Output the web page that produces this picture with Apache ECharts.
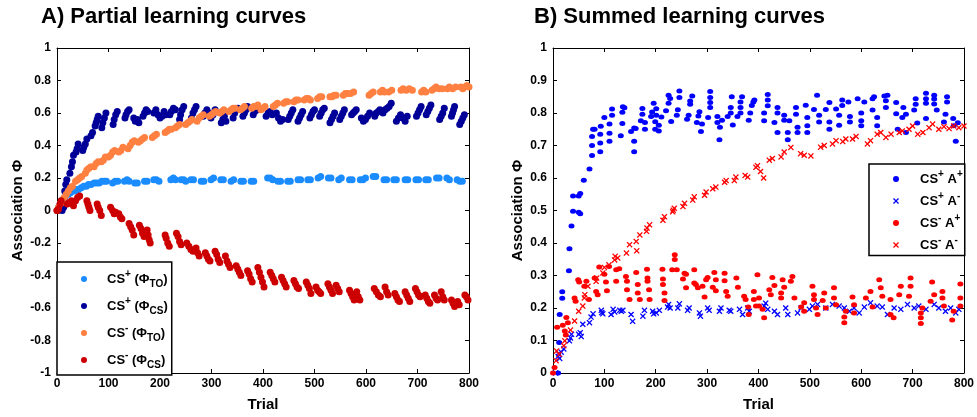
<!DOCTYPE html>
<html>
<head>
<meta charset="utf-8">
<script src="https://cdn.jsdelivr.net/npm/echarts@6/dist/echarts.min.js"></script>
<style>html,body{margin:0;padding:0;background:#fff}#c{width:977px;height:417px}</style>
</head>
<body>
<div id="c"></div>
<script>
// ---------- DATA ----------
const xTicksTrial = [0,100,200,300,400,500,600,700,800];
const leftNames = ['CS+ (ΦTO)', 'CS+ (ΦCS)', 'CS- (ΦTO)', 'CS- (ΦCS)'];
const rightNames = ['CS+ A+', 'CS+ A-', 'CS- A+', 'CS- A-'];

// Panel A: [trial, association]
const csPlusTO = [[0,0],[3,0.02],[6,0.04],[9,0.06],[12,0.07],[15,0.08],[19,0.1],[22,0.1],[26,0.11],[30,0.12],[34,0.12],[38,0.13],[42,0.13],[47,0.14],[52,0.15],[57,0.15],[61,0.16],[66,0.16],[72,0.17],[77,0.17],[82,0.17],[87,0.18],[92,0.18],[96,0.18],[108,0.17],[113,0.18],[118,0.18],[131,0.18],[136,0.19],[140,0.18],[151,0.17],[156,0.17],[170,0.18],[175,0.18],[188,0.19],[193,0.19],[198,0.18],[221,0.19],[226,0.2],[230,0.19],[241,0.19],[246,0.19],[250,0.18],[260,0.19],[265,0.19],[280,0.18],[285,0.18],[299,0.19],[304,0.2],[318,0.19],[323,0.19],[338,0.18],[343,0.19],[357,0.18],[362,0.18],[377,0.18],[382,0.18],[409,0.2],[414,0.2],[419,0.19],[429,0.18],[434,0.18],[448,0.18],[453,0.18],[468,0.19],[473,0.19],[487,0.19],[492,0.19],[507,0.2],[512,0.21],[527,0.2],[532,0.2],[547,0.19],[552,0.2],[568,0.19],[573,0.19],[589,0.19],[594,0.19],[599,0.2],[614,0.21],[619,0.21],[635,0.19],[640,0.19],[654,0.19],[659,0.19],[676,0.19],[681,0.19],[697,0.19],[702,0.19],[716,0.19],[721,0.19],[737,0.2],[742,0.2],[757,0.2],[762,0.19],[777,0.19],[782,0.18],[787,0.18]];
const csPlusCS = [[2,0],[6,0.02],[10,0],[13,0.02],[15,0.12],[17,0.16],[19,0.19],[25,0.23],[28,0.27],[30,0.3],[32,0.34],[37,0.36],[39,0.38],[41,0.41],[50,0.37],[52,0.39],[55,0.41],[58,0.44],[66,0.46],[69,0.48],[74,0.52],[76,0.54],[78,0.56],[80,0.58],[87,0.51],[89,0.54],[92,0.57],[95,0.6],[109,0.53],[111,0.56],[114,0.59],[117,0.61],[132,0.57],[134,0.59],[137,0.61],[140,0.62],[149,0.57],[152,0.55],[156,0.56],[159,0.54],[167,0.58],[170,0.6],[173,0.62],[176,0.61],[188,0.6],[192,0.62],[196,0.59],[200,0.57],[204,0.58],[208,0.61],[211,0.59],[219,0.59],[222,0.61],[226,0.63],[230,0.62],[238,0.56],[240,0.59],[243,0.62],[246,0.64],[261,0.57],[264,0.6],[267,0.62],[270,0.64],[284,0.58],[287,0.6],[291,0.62],[295,0.6],[299,0.57],[303,0.59],[307,0.62],[319,0.54],[322,0.56],[325,0.58],[328,0.55],[342,0.57],[345,0.6],[348,0.62],[351,0.63],[361,0.58],[364,0.6],[367,0.62],[370,0.64],[381,0.59],[384,0.61],[387,0.63],[390,0.62],[406,0.58],[410,0.6],[414,0.61],[418,0.59],[426,0.6],[430,0.57],[434,0.55],[438,0.56],[449,0.56],[452,0.58],[455,0.6],[458,0.62],[468,0.55],[471,0.57],[474,0.59],[477,0.61],[491,0.57],[494,0.59],[497,0.61],[500,0.62],[510,0.58],[513,0.6],[516,0.62],[519,0.63],[530,0.54],[533,0.56],[536,0.58],[539,0.6],[549,0.56],[552,0.58],[555,0.6],[558,0.62],[572,0.59],[575,0.6],[578,0.61],[581,0.62],[591,0.57],[595,0.55],[599,0.56],[603,0.58],[607,0.6],[617,0.58],[620,0.6],[624,0.61],[627,0.62],[633,0.6],[637,0.62],[641,0.63],[645,0.64],[649,0.66],[659,0.55],[663,0.57],[667,0.59],[672,0.57],[676,0.55],[680,0.58],[698,0.58],[701,0.6],[704,0.62],[707,0.64],[717,0.59],[720,0.61],[723,0.63],[726,0.65],[743,0.56],[746,0.58],[749,0.6],[752,0.63],[766,0.58],[768,0.6],[770,0.62],[772,0.64],[782,0.53],[785,0.55],[788,0.57],[791,0.59]];
const csMinusTO = [[0,0],[3,0.02],[6,0.04],[9,0.05],[14,0.08],[18,0.1],[22,0.12],[26,0.14],[30,0.15],[36,0.18],[40,0.19],[44,0.2],[48,0.21],[55,0.23],[58,0.25],[62,0.26],[66,0.27],[72,0.27],[76,0.29],[80,0.3],[86,0.3],[90,0.31],[94,0.33],[100,0.33],[104,0.34],[108,0.36],[112,0.37],[120,0.36],[124,0.37],[128,0.39],[138,0.38],[142,0.4],[146,0.42],[150,0.43],[158,0.42],[162,0.43],[166,0.44],[170,0.45],[185,0.45],[189,0.46],[193,0.47],[210,0.48],[214,0.49],[218,0.5],[222,0.5],[230,0.51],[234,0.52],[238,0.53],[250,0.53],[254,0.54],[258,0.55],[262,0.56],[272,0.55],[276,0.57],[280,0.58],[284,0.59],[296,0.58],[300,0.59],[304,0.6],[308,0.61],[316,0.6],[320,0.61],[324,0.62],[334,0.61],[338,0.62],[342,0.63],[346,0.63],[356,0.62],[360,0.63],[364,0.64],[378,0.63],[382,0.64],[386,0.64],[390,0.65],[396,0.62],[400,0.63],[404,0.64],[420,0.64],[424,0.65],[428,0.66],[440,0.66],[444,0.67],[448,0.67],[460,0.67],[464,0.68],[468,0.68],[480,0.68],[484,0.69],[488,0.69],[492,0.68],[506,0.69],[510,0.7],[514,0.7],[530,0.7],[534,0.7],[538,0.71],[542,0.71],[556,0.71],[560,0.72],[564,0.72],[570,0.72],[576,0.73],[606,0.71],[610,0.72],[614,0.73],[628,0.73],[632,0.74],[636,0.73],[644,0.73],[650,0.74],[668,0.74],[672,0.75],[678,0.74],[684,0.75],[690,0.74],[708,0.73],[712,0.74],[716,0.73],[728,0.74],[732,0.75],[736,0.76],[742,0.75],[748,0.75],[758,0.75],[762,0.76],[768,0.75],[774,0.76],[784,0.76],[788,0.75],[792,0.76],[796,0.77],[800,0.76]];
const csMinusCS = [[0,0],[3,0.01],[6,0.04],[8,0.06],[20,0.04],[24,0.05],[28,0.06],[32,0.03],[36,0.06],[40,0.08],[44,0.09],[58,0.06],[60,0.04],[62,0.02],[64,0],[78,0.04],[80,0.02],[83,0],[86,-0.03],[104,0.02],[108,0],[111,-0.02],[114,-0.01],[120,-0.02],[123,-0.04],[126,-0.05],[140,-0.08],[143,-0.1],[146,-0.12],[149,-0.15],[160,-0.09],[163,-0.11],[166,-0.14],[169,-0.16],[175,-0.12],[177,-0.15],[179,-0.18],[181,-0.2],[210,-0.15],[212,-0.17],[215,-0.2],[218,-0.22],[232,-0.14],[235,-0.16],[238,-0.19],[241,-0.21],[252,-0.2],[256,-0.22],[260,-0.24],[264,-0.25],[270,-0.23],[273,-0.26],[276,-0.28],[288,-0.26],[291,-0.28],[294,-0.3],[297,-0.31],[307,-0.25],[310,-0.27],[313,-0.3],[316,-0.32],[327,-0.28],[330,-0.31],[333,-0.33],[336,-0.35],[348,-0.34],[351,-0.36],[354,-0.38],[357,-0.4],[370,-0.37],[373,-0.39],[376,-0.42],[379,-0.44],[390,-0.35],[393,-0.38],[396,-0.41],[399,-0.44],[402,-0.47],[414,-0.38],[417,-0.4],[420,-0.42],[423,-0.44],[436,-0.41],[439,-0.43],[442,-0.45],[445,-0.47],[460,-0.43],[463,-0.45],[466,-0.47],[469,-0.48],[484,-0.44],[487,-0.46],[490,-0.48],[493,-0.51],[503,-0.47],[506,-0.49],[509,-0.5],[512,-0.51],[526,-0.45],[529,-0.47],[532,-0.49],[535,-0.51],[542,-0.46],[545,-0.48],[548,-0.5],[568,-0.49],[571,-0.51],[574,-0.53],[577,-0.55],[582,-0.5],[585,-0.53],[588,-0.55],[616,-0.48],[620,-0.5],[624,-0.52],[628,-0.53],[637,-0.47],[640,-0.5],[643,-0.52],[656,-0.51],[659,-0.53],[662,-0.55],[665,-0.56],[676,-0.5],[679,-0.52],[682,-0.54],[685,-0.56],[696,-0.48],[699,-0.5],[702,-0.52],[705,-0.53],[715,-0.52],[718,-0.54],[721,-0.56],[724,-0.57],[733,-0.52],[736,-0.54],[739,-0.55],[746,-0.5],[749,-0.53],[752,-0.55],[766,-0.55],[769,-0.57],[772,-0.59],[778,-0.56],[781,-0.58],[792,-0.52],[795,-0.53],[798,-0.55]];

// Panel B: [trial, association]
const csPlusAPlus = [[10,0],[12,0.094],[13,0.18],[18,0.23],[18,0.25],[31,0.315],[32,0.382],[36,0.452],[39,0.498],[39,0.545],[50,0.495],[53,0.49],[50,0.545],[53,0.552],[60,0.593],[71,0.628],[76,0.669],[76,0.7],[76,0.728],[78,0.75],[81,0.75],[92,0.681],[92,0.708],[92,0.735],[93,0.759],[100,0.786],[110,0.713],[110,0.738],[110,0.766],[115,0.793],[115,0.812],[132,0.73],[135,0.768],[135,0.802],[136,0.819],[139,0.816],[152,0.743],[158,0.681],[158,0.713],[158,0.754],[161,0.752],[171,0.776],[174,0.796],[174,0.814],[179,0.75],[179,0.771],[191,0.789],[193,0.803],[196,0.83],[199,0.75],[199,0.773],[201,0.793],[201,0.813],[206,0.745],[206,0.762],[211,0.788],[220,0.807],[225,0.83],[225,0.855],[228,0.845],[230,0.774],[241,0.793],[243,0.81],[246,0.848],[246,0.868],[261,0.781],[264,0.793],[267,0.827],[267,0.837],[271,0.852],[280,0.771],[283,0.791],[285,0.804],[288,0.743],[290,0.766],[302,0.786],[306,0.817],[306,0.832],[306,0.848],[306,0.866],[320,0.771],[320,0.789],[324,0.718],[325,0.756],[329,0.778],[340,0.789],[346,0.8],[346,0.817],[348,0.85],[350,0.763],[359,0.789],[365,0.8],[365,0.817],[365,0.834],[368,0.85],[381,0.778],[384,0.8],[387,0.823],[390,0.834],[392,0.84],[411,0.8],[411,0.776],[418,0.857],[418,0.84],[418,0.822],[431,0.771],[437,0.817],[437,0.8],[437,0.74],[450,0.793],[450,0.778],[457,0.74],[457,0.718],[460,0.776],[473,0.817],[473,0.796],[476,0.756],[476,0.74],[492,0.824],[495,0.786],[495,0.761],[495,0.74],[508,0.811],[514,0.855],[518,0.793],[518,0.772],[531,0.811],[538,0.832],[538,0.772],[538,0.75],[551,0.812],[557,0.793],[557,0.762],[563,0.823],[563,0.84],[575,0.834],[578,0.789],[578,0.772],[593,0.844],[600,0.8],[600,0.776],[600,0.761],[606,0.834],[622,0.809],[622,0.844],[625,0.85],[631,0.786],[631,0.761],[645,0.852],[648,0.817],[648,0.838],[651,0.855],[668,0.832],[668,0.798],[671,0.75],[680,0.786],[682,0.817],[687,0.796],[687,0.74],[703,0.809],[706,0.844],[706,0.827],[709,0.769],[726,0.861],[726,0.844],[726,0.83],[726,0.783],[742,0.855],[742,0.843],[742,0.828],[747,0.809],[761,0.772],[764,0.796],[767,0.85],[767,0.834],[779,0.783],[780,0.761],[784,0.713],[788,0.77]];
const csPlusAMinus = [[5,0],[10,0.051],[11,0.059],[13,0.045],[16,0.064],[21,0.074],[32,0.099],[34,0.108],[36,0.119],[50,0.119],[53,0.124],[55,0.112],[58,0.15],[71,0.155],[74,0.172],[78,0.182],[94,0.193],[95,0.186],[97,0.182],[113,0.18],[117,0.196],[120,0.188],[130,0.193],[133,0.19],[136,0.193],[152,0.18],[155,0.159],[175,0.175],[178,0.193],[194,0.19],[196,0.182],[201,0.185],[207,0.193],[223,0.203],[225,0.211],[228,0.2],[243,0.2],[246,0.213],[262,0.193],[265,0.2],[285,0.185],[287,0.175],[301,0.2],[304,0.193],[324,0.19],[327,0.2],[343,0.193],[346,0.19],[363,0.196],[369,0.18],[379,0.2],[382,0.19],[411,0.206],[414,0.215],[418,0.196],[431,0.19],[437,0.18],[453,0.2],[457,0.18],[476,0.185],[483,0.2],[499,0.196],[505,0.206],[515,0.211],[531,0.2],[544,0.211],[557,0.206],[567,0.2],[577,0.19],[586,0.2],[596,0.185],[606,0.203],[618,0.216],[631,0.206],[641,0.203],[651,0.18],[664,0.2],[677,0.196],[690,0.211],[703,0.2],[712,0.206],[726,0.196],[742,0.211],[751,0.2],[764,0.19],[774,0.2],[784,0.185],[790,0.196]];
const csMinusAPlus = [[0,0],[3,0.017],[8,0.141],[19,0.147],[23,0.129],[26,0.171],[29,0.155],[25,0.117],[42,0.231],[44,0.221],[49,0.287],[51,0.28],[61,0.267],[65,0.282],[70,0.226],[81,0.292],[84,0.251],[87,0.241],[90,0.326],[100,0.304],[103,0.28],[105,0.253],[109,0.328],[123,0.318],[123,0.282],[129,0.321],[142,0.297],[144,0.282],[144,0.256],[149,0.226],[162,0.309],[165,0.272],[165,0.246],[169,0.226],[183,0.319],[184,0.292],[184,0.282],[187,0.256],[188,0.226],[213,0.319],[214,0.289],[214,0.272],[217,0.246],[217,0.223],[232,0.318],[237,0.364],[237,0.349],[241,0.318],[253,0.289],[256,0.307],[259,0.262],[259,0.304],[275,0.318],[275,0.277],[278,0.272],[282,0.262],[291,0.267],[295,0.234],[298,0.287],[301,0.294],[311,0.264],[314,0.309],[317,0.287],[317,0.253],[334,0.307],[334,0.284],[337,0.251],[340,0.236],[357,0.292],[360,0.264],[372,0.236],[375,0.226],[380,0.203],[381,0.18],[391,0.251],[391,0.226],[398,0.302],[395,0.206],[401,0.231],[401,0.206],[408,0.196],[411,0.17],[421,0.256],[424,0.241],[427,0.294],[431,0.269],[444,0.246],[444,0.231],[447,0.287],[450,0.264],[463,0.282],[466,0.297],[470,0.231],[483,0.203],[489,0.216],[489,0.19],[505,0.267],[508,0.241],[508,0.226],[512,0.2],[515,0.18],[525,0.223],[528,0.246],[531,0.2],[547,0.262],[547,0.231],[551,0.21],[567,0.172],[567,0.155],[570,0.19],[583,0.234],[586,0.21],[586,0.185],[609,0.231],[618,0.251],[622,0.203],[635,0.287],[638,0.262],[641,0.236],[657,0.226],[657,0.18],[663,0.17],[674,0.241],[677,0.267],[693,0.236],[696,0.292],[696,0.267],[716,0.185],[716,0.17],[716,0.152],[719,0.2],[735,0.221],[738,0.28],[742,0.241],[758,0.251],[758,0.231],[761,0.206],[777,0.163],[780,0.19],[793,0.274],[793,0.231],[793,0.206]];
const csMinusAMinus = [[6,0.038],[7,0.068],[12,0.058],[21,0.084],[23,0.099],[34,0.132],[42,0.16],[50,0.19],[58,0.206],[61,0.231],[62,0.241],[68,0.267],[84,0.282],[85,0.292],[97,0.308],[100,0.325],[109,0.333],[120,0.348],[121,0.359],[126,0.354],[143,0.369],[149,0.395],[162,0.405],[163,0.376],[169,0.425],[182,0.436],[183,0.446],[188,0.456],[214,0.47],[217,0.481],[233,0.496],[234,0.501],[236,0.507],[253,0.512],[256,0.522],[272,0.532],[275,0.542],[295,0.547],[298,0.557],[311,0.567],[317,0.572],[334,0.587],[337,0.592],[353,0.592],[356,0.603],[374,0.608],[379,0.603],[395,0.633],[398,0.638],[404,0.62],[410,0.6],[421,0.655],[427,0.66],[444,0.665],[450,0.68],[463,0.694],[482,0.675],[489,0.67],[502,0.668],[521,0.695],[528,0.7],[544,0.705],[551,0.715],[564,0.712],[570,0.72],[583,0.72],[590,0.728],[612,0.705],[618,0.715],[631,0.735],[638,0.74],[648,0.725],[658,0.735],[674,0.74],[680,0.745],[693,0.75],[700,0.76],[710,0.735],[720,0.74],[732,0.755],[739,0.766],[751,0.75],[761,0.758],[771,0.752],[780,0.76],[790,0.755],[800,0.76]];

// ---------- CHART ----------
const FONT = '"Liberation Sans", Arial, sans-serif';
const chart = echarts.init(document.getElementById('c'), null, {renderer: 'canvas'});
const X_MARK = 'path://M1.5,0L5,3.5L8.5,0L10,1.5L6.5,5L10,8.5L8.5,10L5,6.5L1.5,10L0,8.5L3.5,5L0,1.5Z';

const lineStyle = {color: '#000', width: 1};
function xAx(grid, pos, show) {
  return {type: 'value', gridIndex: grid, position: pos, min: 0, max: 800, interval: 100,
    axisLine: {show: true, onZero: false, lineStyle}, axisTick: {show: true, inside: true, length: 4, lineStyle},
    splitLine: {show: false},
    axisLabel: {show: show, margin: 5, color: '#000', fontFamily: FONT, fontWeight: 'bold', fontSize: 12},
    name: show ? 'Trial' : '', nameLocation: 'middle', nameGap: 24,
    nameTextStyle: {color: '#000', fontFamily: FONT, fontWeight: 'bold', fontSize: 15}};
}
function yAx(grid, pos, show, min, interval, gap) {
  return {type: 'value', gridIndex: grid, position: pos, min: min, max: 1, interval: interval,
    axisLine: {show: true, onZero: false, lineStyle}, axisTick: {show: true, inside: true, length: 4, lineStyle},
    splitLine: {show: false},
    axisLabel: {show: show, margin: 6, color: '#000', fontFamily: FONT, fontWeight: 'bold', fontSize: 12,
      formatter: v => String(Math.round(v * 10) / 10)},
    name: show ? 'Association Φ' : '', nameLocation: 'middle', nameGap: gap, nameRotate: 90,
    nameTextStyle: {color: '#000', fontFamily: FONT, fontWeight: 'bold', fontSize: 15}};
}
const rich = {
  b: {fontFamily: FONT, fontWeight: 'bold', fontSize: 13, color: '#000', lineHeight: 20},
  sup: {fontFamily: FONT, fontWeight: 'bold', fontSize: 10, color: '#000', lineHeight: 13, verticalAlign: 'top'},
  sub: {fontFamily: FONT, fontWeight: 'bold', fontSize: 10, color: '#000', lineHeight: 12, verticalAlign: 'bottom'}
};
const leftLabels = {
  [leftNames[0]]: '{b|CS}{sup|+}{b| (Φ}{sub|TO}{b|)}',
  [leftNames[1]]: '{b|CS}{sup|+}{b| (Φ}{sub|CS}{b|)}',
  [leftNames[2]]: '{b|CS}{sup|-}{b| (Φ}{sub|TO}{b|)}',
  [leftNames[3]]: '{b|CS}{sup|-}{b| (Φ}{sub|CS}{b|)}'
};
const rightLabels = {
  [rightNames[0]]: '{b|CS}{sup|+}{b| A}{sup|+}',
  [rightNames[1]]: '{b|CS}{sup|+}{b| A}{sup|-}',
  [rightNames[2]]: '{b|CS}{sup|-}{b| A}{sup|+}',
  [rightNames[3]]: '{b|CS}{sup|-}{b| A}{sup|-}'
};
const leftColors = ['#1a8cff', '#000099', '#ff8040', '#cc0000'];
const rightColors = ['#0000ff', '#0000ff', '#ff0000', '#ff0000'];
const leftData = [csPlusTO, csPlusCS, csMinusTO, csMinusCS];
const rightData = [csPlusAPlus, csPlusAMinus, csMinusAPlus, csMinusAMinus];
const rightSymbols = ['circle', X_MARK, 'circle', X_MARK];

const series = [];
leftNames.forEach((n, i) => series.push({
  type: 'scatter', name: n, xAxisIndex: 0, yAxisIndex: 0, data: leftData[i],
  symbol: 'circle', symbolSize: 7, itemStyle: {color: leftColors[i], opacity: 1}, z: 2 + i, silent: true
}));
rightNames.forEach((n, i) => series.push({
  type: 'scatter', name: n, xAxisIndex: 2, yAxisIndex: 2, data: rightData[i],
  symbol: rightSymbols[i], symbolSize: rightSymbols[i] === 'circle' ? [6, 5] : 6,
  itemStyle: {color: rightColors[i], opacity: 1}, z: 2 + i, silent: true
}));

chart.setOption({
  animation: false,
  backgroundColor: '#fff',
  title: [
    {text: 'A) Partial learning curves', left: 41, top: 6, padding: 0,
     textStyle: {fontFamily: FONT, fontWeight: 'bold', fontSize: 22, color: '#000'}},
    {text: 'B) Summed learning curves', left: 534, top: 6, padding: 0,
     textStyle: {fontFamily: FONT, fontWeight: 'bold', fontSize: 22, color: '#000'}}
  ],
  grid: [
    {left: 57, top: 48, width: 412, height: 327},
    {left: 553, top: 48, width: 412, height: 328}
  ],
  xAxis: [xAx(0, 'bottom', true), xAx(0, 'top', false), xAx(1, 'bottom', true), xAx(1, 'top', false)],
  yAxis: [yAx(0, 'left', true, -1, 0.2, 32), yAx(0, 'right', false, -1, 0.2, 0),
          yAx(1, 'left', true, 0, 0.1, 28), yAx(1, 'right', false, 0, 0.1, 0)],
  legend: [
    {data: leftNames, left: 57, top: 262, orient: 'vertical', itemGap: 7, itemWidth: 36, itemHeight: 6,
     padding: [7, 4, 5, 24], borderColor: '#000', borderWidth: 1.5, backgroundColor: '#fff',
     selectedMode: false, formatter: n => leftLabels[n], textStyle: {rich}},
    {data: rightNames, left: 869, top: 164, orient: 'vertical', itemGap: 5.5, itemWidth: 38, itemHeight: 6,
     padding: [5, 2, 4, 24], borderColor: '#000', borderWidth: 1.5, backgroundColor: '#fff',
     selectedMode: false, formatter: n => rightLabels[n], textStyle: {rich}}
  ],
  series
});
</script>
</body>
</html>
